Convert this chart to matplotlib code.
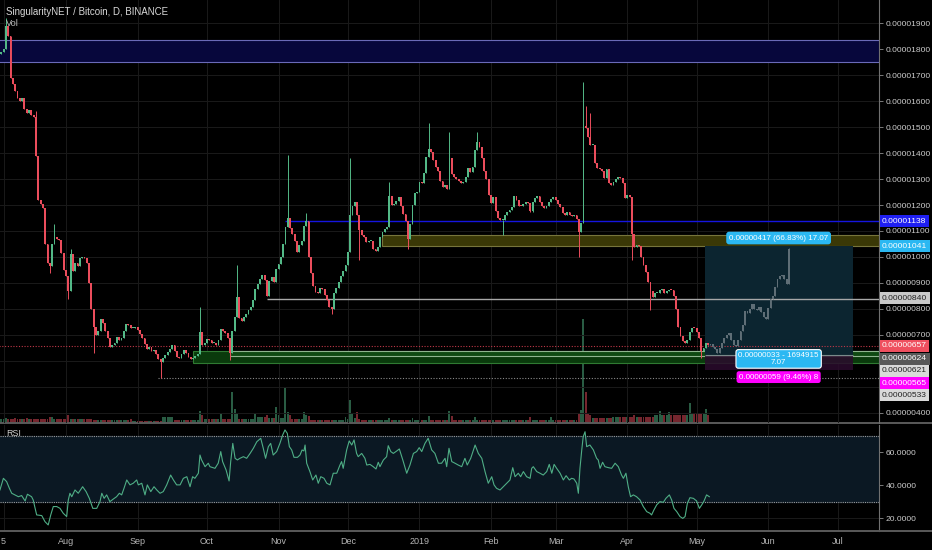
import matplotlib
matplotlib.use('Agg')
import matplotlib.pyplot as plt
import matplotlib.transforms as mtransforms
from matplotlib.patches import Rectangle
import numpy as np

plt.rcParams['font.family'] = ['Liberation Sans', 'DejaVu Sans']

title = 'SingularityNET / Bitcoin, D, BINANCE'
ref_day = '2018-08-01'
first_day = '2018-07-04'

# daily closes in satoshi (1e-8 BTC), one per day from first_day
first_open = 1780
closes = [
    1790, 1800, 1890, 1850, 1690, 1665, 1640, 1610, 1600, 1610,
    1570, 1555, 1565, 1545, 1540, 1390, 1220, 1205, 1190, 1050,
    975, 965, 1050, 1078, 1070, 1065, 1015, 950,
    925, 870, 1010, 945, 975, 965, 995, 1000, 995, 975,
    900, 800, 730, 700, 715, 760, 745, 715, 690, 655,
    662, 670, 693, 682, 687, 715, 742, 740, 725, 725,
    732, 720, 703, 688, 665, 645, 655, 637, 642, 627,
    608, 598, 610, 623, 634, 648, 660, 640, 617, 610,
    628, 642, 632, 615, 606, 610, 618, 628, 710, 660,
    670, 683, 680, 668, 668, 662, 682, 722, 716, 708,
    690, 632, 715, 770, 845, 765, 752, 768, 780, 795,
    806, 835, 875, 898, 915, 930, 910, 850, 908, 922,
    902, 955, 972, 1000, 1050, 1115, 1150, 1110, 1088, 1060,
    1020, 1045, 1063, 1120, 1140, 1000, 940, 890, 865, 860,
    880, 876, 855, 835, 808, 800, 862, 880, 905, 928,
    945, 968, 1020, 1160, 1196, 1210, 1160, 1105, 1085, 1077,
    1058, 1060, 1062, 1032, 1024, 1040, 1075, 1095, 1108, 1117,
    1235, 1200, 1202, 1214, 1232, 1198, 1165, 1140, 1068, 1125,
    1200, 1247, 1251, 1290, 1285, 1325, 1385, 1415, 1405, 1372,
    1345, 1330, 1293, 1270, 1277, 1260, 1380, 1320, 1306, 1300,
    1291, 1286, 1290, 1308, 1343, 1326, 1345, 1410, 1443, 1425,
    1380, 1330, 1300, 1240, 1208, 1230, 1178, 1150, 1142, 1142,
    1160, 1174, 1182, 1192, 1235, 1220, 1198, 1195, 1204, 1210,
    1206, 1175, 1212, 1226, 1236, 1212, 1196, 1188, 1198, 1210,
    1222, 1231, 1218, 1203, 1194, 1168, 1160, 1172, 1160, 1158,
    1160, 1145, 1095, 1130, 1500, 1498, 1460, 1430, 1432, 1360,
    1343, 1338, 1330, 1305, 1338, 1285, 1278, 1290, 1300, 1306,
    1305, 1285, 1228, 1238, 1232, 1090, 1040, 1046, 1042, 1000,
    970, 944, 905, 870, 848, 860, 860, 872, 878, 862,
    868, 873, 872, 850, 800, 730, 697, 675, 670, 680,
    712, 726, 725, 712, 690, 640, 650, 668, 662,
]

# notable wicks, keyed by day offset from ref_day
highs = {-26: 1920, -13: 1560, -5: 1125, 2: 1030, 58: 808, 74: 969, 96: 1392,
         104: 1169, 123: 1381, 140: 1290, 157: 1515, 166: 1482, 178: 1482,
         224: 1674, 225: 1581, 227: 1554}
lows = {-7: 940, 1: 840, 12: 631, 41: 535, 71: 604, 115: 780, 127: 988,
        148: 1030, 189: 1085, 222: 1000, 245: 988, 253: 796, 275: 611}

volume = [
    4, 4, 5, 4, 4, 4, 5, 4, 4, 4,
    4, 5, 4, 4, 4, 4, 4, 4, 4, 4,
    4, 6, 6, 4, 4, 4, 4, 4,
    4, 8, 4, 4, 4, 4, 4, 4, 4, 4,
    4, 4, 3, 3, 3, 3, 3, 3, 3, 3,
    3, 3, 3, 3, 3, 3, 3, 3, 4, 2,
    2, 2, 2, 2, 2, 2, 2, 2, 2, 2,
    2, 2, 6, 6, 6, 6, 6, 3, 3, 3,
    3, 3, 3, 3, 3, 3, 3, 3, 12, 8,
    4, 4, 4, 4, 4, 4, 4, 9, 4, 4,
    4, 4, 31, 14, 9, 4, 4, 4, 4, 4,
    4, 4, 9, 6, 6, 6, 6, 8, 5, 5,
    5, 16, 8, 5, 5, 35, 11, 8, 4, 4,
    4, 4, 4, 11, 8, 7, 3, 3, 3, 3,
    3, 3, 3, 3, 3, 3, 3, 3, 3, 3,
    3, 6, 4, 23, 9, 5, 11, 4, 3, 3,
    3, 3, 3, 3, 3, 3, 3, 3, 3, 3,
    5, 3, 3, 3, 3, 3, 3, 3, 3, 3,
    5, 3, 3, 3, 3, 3, 3, 7, 3, 3,
    3, 3, 3, 3, 3, 3, 12, 7, 3, 3,
    3, 3, 3, 3, 3, 3, 3, 6, 3, 3,
    3, 3, 3, 3, 3, 3, 3, 3, 3, 3,
    3, 3, 3, 3, 3, 3, 3, 3, 3, 3,
    3, 6, 3, 3, 3, 3, 3, 3, 3, 3,
    6, 3, 3, 3, 3, 3, 3, 3, 3, 3,
    3, 3, 9, 13, 104, 31, 9, 8, 5, 5,
    5, 5, 5, 5, 5, 5, 5, 6, 6, 6,
    6, 6, 6, 6, 6, 6, 8, 6, 6, 6,
    6, 6, 6, 6, 6, 8, 8, 12, 8, 8,
    8, 11, 8, 8, 8, 8, 8, 8, 8, 8,
    20, 9, 9, 9, 9, 9, 9, 14, 8,
]

# projected (bars pattern) closes, day after the last real candle onward
proj_closes = [665, 655, 645, 632, 650, 668, 690, 700, 706, 682,
               662, 658, 680, 715, 740, 792, 785, 800, 820, 800,
               795, 808, 790, 770, 760, 805, 840, 850, 885, 915,
               925, 932, 915, 895, 1030]
proj_highs = {313: 1035}

rsi_days = [
    -28.6, -27.1, -25.7, -24.5, -23.5, -22.1, -20.6, -19.2, -17.7, -16.7, -14.9, -14.2,
    -12.7, -10.5, -9.1, -7.7, -6.6, -5.5, -4.0, -2.6, -1.2, 0.3, 1.0, 1.7, 2.5, 3.9,
    5.3, 7.2, 8.7, 10.1, 11.6, 13.3, 14.7, 15.5, 16.5, 17.6, 19.0, 20.5, 21.9, 23.1,
    24.1, 25.1, 26.3, 27.7, 29.1, 30.6, 31.3, 32.8, 34.2, 35.2, 36.7, 38.1, 39.3, 40.7,
    42.1, 43.6, 45.3, 46.5, 47.9, 49.4, 50.8, 52.3, 53.7, 54.8, 55.8, 57.3, 58.0, 58.7,
    60.2, 61.6, 62.3, 64.5, 65.9, 67.0, 67.8, 69.3, 70.6, 71.3, 72.2, 73.2, 74.2, 75.3,
    76.8, 78.2, 79.7, 81.1, 82.6, 84.3, 85.4, 86.4, 87.6, 88.6, 89.7, 91.2, 92.6, 93.8,
    94.8, 95.8, 96.7, 97.7, 98.7, 100.2, 101.3, 102.2, 103.0, 103.5, 104.2, 105.6, 106.8,
    108.2, 109.2, 110.3, 111.7, 112.9, 114.3, 115.7, 117.2, 118.6, 119.3, 120.0, 121.5,
    122.6, 123.7, 124.7, 125.8, 126.5, 128.0, 129.4, 130.2, 131.6, 133.0, 134.2, 135.2,
    135.9, 137.4, 138.8, 139.5, 140.6, 141.7, 143.2, 144.3, 145.8, 147.5, 148.9, 150.4,
    151.8, 152.9, 154.0, 155.4, 156.8, 158.3, 159.7, 161.2, 162.6, 164.1, 164.8, 165.8,
    167.0, 168.4, 169.8, 171.3, 172.7, 173.7, 175.2, 177.1, 178.5, 180.0, 181.4, 182.8,
    184.3, 185.3, 186.4, 187.9, 189.3, 190.8, 192.2, 193.4, 194.4, 195.8, 196.8, 198.0,
    199.4, 200.9, 201.6, 202.3, 203.8, 205.2, 206.6, 208.1, 209.2, 210.3, 211.3, 212.4,
    213.9, 215.3, 216.5, 217.9, 218.9, 219.9, 221.1, 221.8, 222.5, 223.2, 223.9, 224.7,
    225.4, 226.8, 228.3, 229.7, 230.4, 231.2, 232.3, 233.3, 234.8, 236.2, 237.7, 239.1,
    240.5, 241.3, 242.4, 243.4, 244.4, 245.6, 247.0, 248.5, 249.9, 251.4, 252.8, 253.5,
    254.5, 255.7, 257.1, 258.6, 259.7, 261.2, 262.2, 263.2, 264.4, 265.8, 267.0, 268.0,
    269.0, 270.1, 271.6, 273.0, 274.2, 275.2, 276.2, 277.3, 278.5,
]
rsi_vals = [
    37.1, 44.2, 42.2, 38.1, 35.1, 34.1, 33.0, 33.7, 30.4, 34.5, 33.0, 31.0,
    21.9, 21.5, 17.8, 15.8, 21.9, 27.0, 27.0, 25.9, 22.9, 20.9, 31.0, 35.1, 33.0, 37.1,
    35.1, 39.1, 36.1, 32.0, 25.9, 25.9, 30.0, 35.1, 32.0, 34.1, 30.0, 31.6, 33.0, 35.1,
    34.1, 38.1, 43.2, 40.2, 41.2, 43.2, 40.2, 41.2, 34.1, 40.2, 36.1, 39.1, 37.1, 35.1,
    36.1, 40.2, 46.2, 43.2, 40.2, 40.2, 44.2, 45.2, 39.1, 45.2, 44.2, 47.3, 58.4, 55.4,
    51.3, 53.4, 51.3, 50.3, 53.4, 60.5, 54.4, 49.3, 42.6, 54.4, 65.5, 56.4, 55.4, 56.4,
    57.4, 56.4, 59.4, 62.5, 66.5, 68.6, 62.5, 56.4, 63.5, 65.5, 58.4, 60.5, 65.5, 70.6,
    73.7, 71.6, 63.5, 61.5, 57.0, 57.0, 58.4, 61.5, 60.9, 64.5, 53.4, 48.3, 43.2,
    46.2, 41.2, 45.2, 44.2, 41.2, 40.2, 47.3, 47.3, 52.3, 54.4, 50.3, 61.5,
    67.0, 64.5, 67.6, 59.4, 57.4, 59.4, 56.4, 52.3, 52.7, 51.3, 49.9, 54.0,
    51.3, 55.4, 57.4, 64.1, 60.5, 59.4, 60.9, 62.1, 55.4, 47.3, 52.3, 59.4,
    60.5, 62.9, 60.5, 65.5, 68.6, 61.5, 59.4, 53.4, 53.4, 56.4, 51.3, 62.5,
    54.4, 53.4, 52.3, 51.3, 56.4, 52.3, 56.4, 64.5, 59.4, 56.4, 48.3, 41.2,
    45.2, 40.2, 38.1, 37.1, 39.1, 41.2, 43.2, 50.7, 45.2, 47.3, 45.2, 48.3,
    45.2, 44.2, 50.3, 51.3, 48.3, 47.3, 46.2, 48.3, 52.7, 47.3, 52.7, 50.3,
    47.3, 43.2, 45.8, 43.2, 44.2, 43.8, 41.2, 35.1, 50.3, 60.5, 69.6, 72.6,
    63.5, 64.5, 61.5, 56.4, 55.4, 50.3, 54.0, 51.3, 50.7, 50.3, 53.4, 51.3,
    46.2, 44.2, 47.3, 39.1, 33.0, 34.1, 33.0, 31.0, 27.0, 23.9, 22.9, 21.9,
    24.9, 28.0, 30.0, 29.6, 32.0, 34.1, 31.0, 25.9, 23.9, 20.9, 19.8, 20.9,
    29.0, 32.4, 32.0, 30.4, 25.9, 28.0, 30.4, 34.1, 33.0,
]

month_ticks = [('2018-07-05', '5'), ('2018-08-01', 'Aug'), ('2018-09-01', 'Sep'),
               ('2018-10-01', 'Oct'), ('2018-11-01', 'Nov'), ('2018-12-01', 'Dec'),
               ('2019-01-01', '2019'), ('2019-02-01', 'Feb'), ('2019-03-01', 'Mar'),
               ('2019-04-01', 'Apr'), ('2019-05-01', 'May'), ('2019-06-01', 'Jun'),
               ('2019-07-01', 'Jul')]
price_ticks = [400, 500, 600, 700, 800, 900, 1000, 1100, 1200, 1300,
               1400, 1500, 1600, 1700, 1800, 1900]
hidden_ticks = [500, 600]
rsi_ticks = [20, 40, 60]

# drawings: (low, high, start date)
blue_zone = (1750, 1835, '2018-07-01')
yellow_zone = (1042, 1085, '2018-12-16')
green_zone = (592, 638, '2018-09-25')
green_zone2 = (621, 638, '2018-10-11')
blue_level = (1138, '2018-11-04')
white_level = (840, '2018-10-27')
red_level = (657, '2018-07-01')
gray_level = (533, '2018-09-10')
entry, target, stop = 624, 1041, 565
pos_start, pos_end = '2019-05-04', '2019-07-07'

# right-axis price labels: (value, label height in price units, bg, fg)
axis_labels = [(1138, 1138, '#1f1ff2', 'white'), (1041, 1042, '#2bb8f2', 'white'),
               (840, 842, '#c9c9c9', '#222222'), (657, 658, '#ef4f5f', 'white'),
               (624, 608, '#585858', 'white'), (621, 562, '#d9d9d9', '#222222'),
               (565, 515, '#ff00ff', 'white'), (533, 469, '#d9d9d9', '#222222')]


def day_of(s):
    return int((np.datetime64(s) - np.datetime64(ref_day)).astype(int))


def fmt(v):
    return '{:.8f}'.format(v * 1e-8)


def candles(ax, x0, cl, op0, hd, ld, up_col, dn_col, width=0.8):
    cl = np.asarray(cl, float)
    x = x0 + np.arange(len(cl))
    op = np.r_[op0, cl[:-1]]
    top = np.maximum(op, cl)
    bot = np.minimum(op, cl)
    hi, lo = top.copy(), bot.copy()
    for d, v in hd.items():
        i = d - x0
        if 0 <= i < len(cl):
            hi[i] = max(hi[i], v)
    for d, v in ld.items():
        i = d - x0
        if 0 <= i < len(cl):
            lo[i] = min(lo[i], v)
    cols = np.where(cl >= op, up_col, dn_col)
    ax.vlines(x, lo, hi, colors=cols, lw=0.7, zorder=4)
    ax.bar(x, np.maximum(top - bot, 4), bottom=bot, width=width, color=cols,
           linewidth=0, zorder=4)
    return x, cols


W, H = 932, 550
fig = plt.figure(figsize=(W / 100, H / 100), dpi=100, facecolor='black')
right = 879 / W
ax_v = fig.add_axes([0, 1 - 423 / H, right, 423 / H])
ax = ax_v.twinx()
ax_r = fig.add_axes([0, 1 - 531 / H, right, 106 / H], sharex=ax_v)

xmin, xmax = -28.57, 351.95
ax_v.set_xlim(xmin, xmax)
ax.set_ylim(361.5, 1988.5)
ax_v.set_ylim(0, 423)
ax.set_zorder(2)
ax_v.set_zorder(1)
ax.patch.set_visible(False)
ax_v.set_facecolor('black')
ax_r.set_facecolor('black')

grid_col = '#1a1a1a'
month_x = [day_of(d) for d, _ in month_ticks]
for a in (ax, ax_r):
    for mx in month_x:
        a.axvline(mx, color=grid_col, lw=0.7, zorder=0)
for p in price_ticks:
    ax.axhline(p, color=grid_col, lw=0.7, zorder=0)
for r in rsi_ticks:
    ax_r.axhline(r, color=grid_col, lw=0.7, zorder=0)


def zone(lo_, hi_, start, fc, ec, z=1):
    s = day_of(start)
    ax.add_patch(Rectangle((s, lo_), xmax - s + 5, hi_ - lo_, facecolor=fc,
                           edgecolor=ec, lw=0.8, zorder=z))


zone(blue_zone[0], blue_zone[1], blue_zone[2], '#07073c', '#6a6ab8')
zone(yellow_zone[0], yellow_zone[1], yellow_zone[2], '#3a3806', '#77753c')
zone(green_zone[0], green_zone[1], green_zone[2], '#0a3a0c', '#2f7a32')
zone(green_zone2[0], green_zone2[1], green_zone2[2], '#0f4a12', '#8fb58f')

ax.hlines(blue_level[0], day_of(blue_level[1]), xmax, color='#1515e0', lw=1.0, zorder=3)
ax.hlines(white_level[0], day_of(white_level[1]), xmax, color='#a8a8a8', lw=1.0, zorder=3)
ax.hlines(red_level[0], day_of(red_level[1]), xmax, color='#c03848', lw=0.8,
          linestyles=(0, (1, 1.5)), zorder=3)
ax.hlines(gray_level[0], day_of(gray_level[1]), xmax, color='#8a8a8a', lw=0.8,
          linestyles=(0, (1, 1.5)), zorder=3)

# long position tool
ps, pe = day_of(pos_start) + 0.5, day_of(pos_end) + 0.5
ax.add_patch(Rectangle((ps, entry), pe - ps, target - entry, facecolor='#0c2530',
                       edgecolor='none', zorder=1.5))
ax.add_patch(Rectangle((ps, stop), pe - ps, entry - stop, facecolor='#2b0b2d',
                       edgecolor='none', alpha=0.85, zorder=1.2))
ax.hlines(entry, ps, pe, color='#7a8a8a', lw=0.8, zorder=3)
pm = (ps + pe) / 2
lbl = dict(fontsize=5.8, ha='center', va='center', zorder=6)
ax.text(pm, 1073, '{} ({:.2f}%) {:.2f}'.format(fmt(target - entry), (target - entry) / entry * 100, 17.07),
        color='white', bbox=dict(boxstyle='round,pad=0.35', fc='#2bb8f2', ec='none'), **lbl)
ax.text(pm, 608, '{} - {}\n{:.2f}'.format(fmt(33), 1694915, 7.07), color='white', linespacing=0.95,
        bbox=dict(boxstyle='round,pad=0.3', fc='#2bb8f2', ec='white', lw=0.8), **lbl)
ax.text(pm, 538, '{} ({:.2f}%) {}'.format(fmt(entry - stop), (entry - stop) / entry * 100, 8),
        color='white', bbox=dict(boxstyle='round,pad=0.3', fc='#ff00ff', ec='none'), **lbl)

# candles and volume
up_col, dn_col = '#53b987', '#eb4d5c'
x0 = day_of(first_day)
xs, cols = candles(ax, x0, closes, first_open, highs, lows, up_col, dn_col)
nv = min(len(volume), len(xs))
ax_v.bar(xs[:nv], volume[:nv], width=0.85, color=cols[:nv], alpha=0.5, linewidth=0)
candles(ax, x0 + len(closes), proj_closes, closes[-1], proj_highs, {},
        '#5f6e76', '#5f6e76')

# price axis
ax.yaxis.tick_right()
ax.set_yticks(price_ticks)
ax.set_yticklabels(['' if p in hidden_ticks else fmt(p) for p in price_ticks])
ax.tick_params(axis='y', colors='#7a7a7a', labelcolor='#cccccc', labelsize=6.1,
               length=3, pad=2, width=0.7)
ax_v.set_yticks([])
ax_v.tick_params(axis='x', bottom=False, labelbottom=False)
for a in (ax, ax_v, ax_r):
    for s in a.spines.values():
        s.set_visible(False)
ax.spines['right'].set_visible(True)
ax.spines['right'].set_color('#707070')

trans = mtransforms.blended_transform_factory(ax.transAxes, ax.transData)
for val, yy, bg, fg in axis_labels:
    ax.text(1.0035, yy, fmt(val), transform=trans, fontsize=6.1, color=fg, ha='left',
            va='center', zorder=7, bbox=dict(boxstyle='square,pad=0.28', fc=bg, ec='none'))

# RSI pane
ax_r.set_ylim(12.1, 76.7)
ax_r.axhspan(30, 70, color='#0b1823', zorder=0.5)
for lv in (30, 70):
    ax_r.axhline(lv, color='#9a9a9a', lw=0.8, ls=(0, (1, 1)), zorder=2)
ax_r.plot(rsi_days, rsi_vals, color='#4fae86', lw=0.8, zorder=3)
ax_r.yaxis.tick_right()
ax_r.set_yticks(rsi_ticks)
ax_r.set_yticklabels(['{:.4f}'.format(v) for v in rsi_ticks])
ax_r.tick_params(axis='y', colors='#7a7a7a', labelcolor='#cccccc', labelsize=6.1,
                 length=3, pad=2, width=0.7)
ax_r.set_xticks(month_x)
ax_r.set_xticklabels([lab for _, lab in month_ticks])
ax_r.tick_params(axis='x', length=0, pad=4, labelsize=6.5, labelcolor='#b5b5b5')
ax_r.spines['right'].set_visible(True)
ax_r.spines['right'].set_color('#707070')

# pane separators
for yy in (423, 531):
    fig.add_artist(plt.Line2D([0, 1], [1 - yy / H, 1 - yy / H], color='#5a5a5a', lw=1.4))

fig.text(6 / W, 1 - 12 / H, title, color='#d8d8d8', fontsize=7.0, va='center')
fig.text(6 / W, 1 - 24 / H, 'Vol', color='#bdbdbd', fontsize=6.6, va='center')
fig.text(6 / W, 1 - 434 / H, 'RSI', color='#cfcfcf', fontsize=6.4, va='center')

fig.savefig('out.png', dpi=100, facecolor='black')
